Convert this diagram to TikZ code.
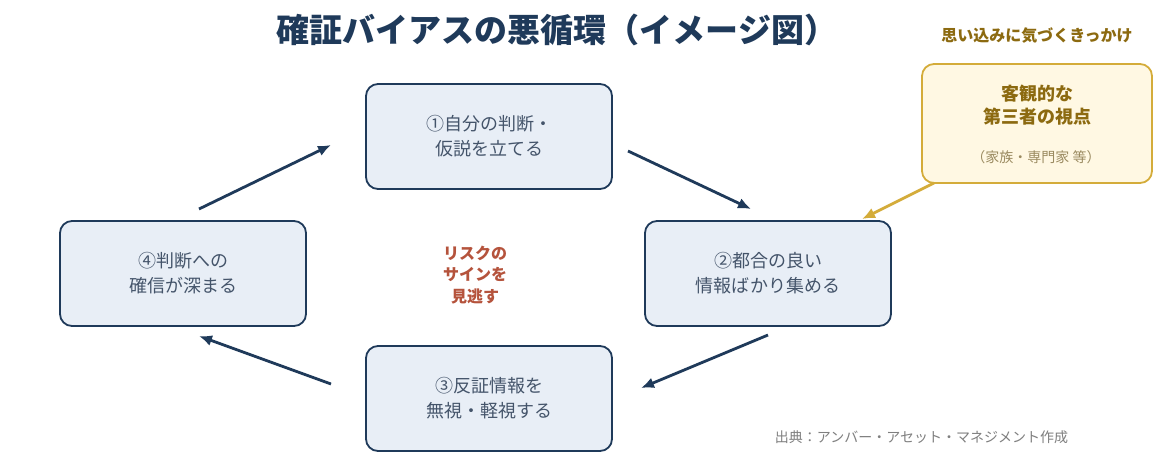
\documentclass[tikz,border=0pt]{standalone}
\usepackage{fontspec}
\setmainfont{Noto Sans CJK JP}
\newfontfamily\jp{Noto Sans CJK JP}
\usetikzlibrary{arrows.meta}
\definecolor{navy}{HTML}{1F3A5A}
\definecolor{boxfill}{HTML}{E8EEF6}
\definecolor{boxtext}{HTML}{44546A}
\definecolor{goldline}{HTML}{D4AC3A}
\definecolor{goldfill}{HTML}{FFF8E3}
\definecolor{goldtext}{HTML}{8C6A10}
\definecolor{goldsub}{HTML}{9A8A60}
\definecolor{riskred}{HTML}{B5533C}
\definecolor{foot}{HTML}{7F7F7F}
\tikzset{
  stepbox/.style={draw=navy, line width=1.8pt, fill=boxfill, rounded corners=12pt,
    minimum width=246pt, minimum height=105pt, align=center, text=boxtext,
    font=\jp\fontsize{18}{25}\selectfont, inner sep=0pt},
  goldbox/.style={draw=goldline, line width=1.8pt, fill=goldfill, rounded corners=12pt,
    minimum width=230pt, minimum height=119pt, inner sep=0pt},
  arr/.style={draw=navy, line width=2.8pt, -{Latex[length=13pt,width=11pt]}},
  goldarr/.style={draw=goldline, line width=2.8pt, -{Latex[length=13pt,width=11pt]}},
}
\begin{document}
\begin{tikzpicture}[x=1pt,y=-1pt]
\useasboundingbox (0,0) rectangle (1153,453);
\fill[white] (0,0) rectangle (1153,453);
% title
\node[font=\jp\bfseries\fontsize{33}{38}\selectfont, text=navy] (title) at (557,30) {確証バイアスの悪循環（イメージ図）};
% boxes
\node[stepbox] (b1) at (489,136.5) {①自分の判断・\\仮説を立てる};
\node[stepbox] (b2) at (768,273.5) {②都合の良い\\情報ばかり集める};
\node[stepbox] (b3) at (489,398.5) {③反証情報を\\無視・軽視する};
\node[stepbox] (b4) at (183,273.5) {④判断への\\確信が深まる};
% center text
\node[font=\jp\bfseries\fontsize{16}{21.5}\selectfont, text=riskred, align=center] (risk) at (475,275) {リスクの\\サインを\\見逃す};
% gold box
\node[font=\jp\bfseries\fontsize{16}{18}\selectfont, text=goldtext] (gtitle) at (1037,36) {思い込みに気づくきっかけ};
\node[goldbox] (g) at (1037,123.5) {};
\node[font=\jp\bfseries\fontsize{18}{23}\selectfont, text=goldtext, align=center] (gt) at (1037,105) {客観的な\\第三者の視点};
\node[font=\jp\fontsize{14}{16}\selectfont, text=goldsub] (gs) at (1036,157) {（家族・専門家 等）};
% footer
\node[font=\jp\fontsize{14}{16}\selectfont, text=foot] (src) at (921.5,437) {出典：アンバー・アセット・マネジメント作成};
% arrows
\coordinate (a1s) at (199,209); \coordinate (a1e) at (331,145);
\coordinate (a2s) at (628,151); \coordinate (a2e) at (751,209);
\coordinate (a3s) at (768,335); \coordinate (a3e) at (641,388);
\coordinate (a4s) at (331,384); \coordinate (a4e) at (199,336);
\coordinate (a5s) at (934,183); \coordinate (a5e) at (862,219);
\draw[arr] (a1s) -- (a1e);
\draw[arr] (a2s) -- (a2e);
\draw[arr] (a3s) -- (a3e);
\draw[arr] (a4s) -- (a4e);
\draw[goldarr] (a5s) -- (a5e);
\end{tikzpicture}
\end{document}
